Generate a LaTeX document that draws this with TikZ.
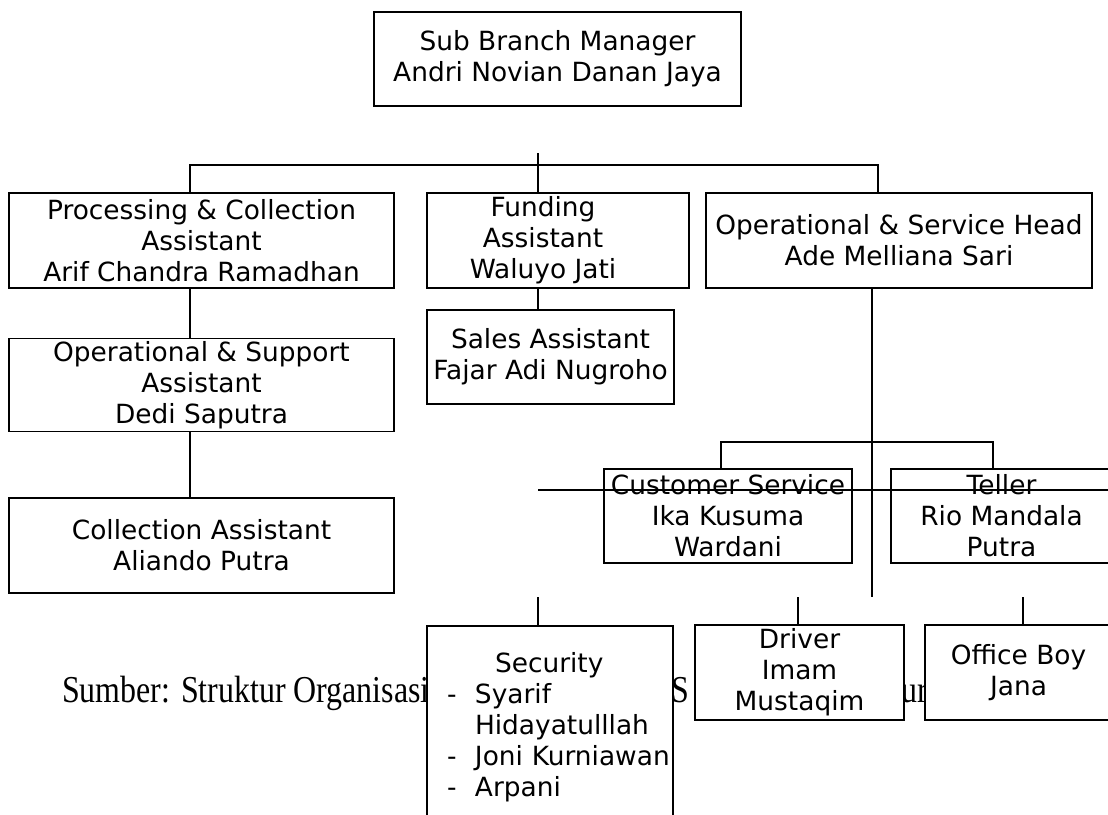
\documentclass[tikz,border=0pt]{standalone}
\usepackage{fontspec}
\setmainfont{DejaVu Sans}
\newfontfamily\srcfont{Liberation Serif}
\usetikzlibrary{calc}
\tikzstyle{unit}=[draw,fill=white,line width=1.5pt,align=center,inner sep=0pt,font=\fontsize{26.4}{31}\selectfont]
\tikzstyle{unittext}=[align=center,inner sep=0pt,font=\fontsize{26.4}{31}\selectfont]
\tikzstyle{link}=[draw,line width=1.5pt]
\tikzstyle{source}=[inner sep=0pt,anchor=base west,font=\srcfont\fontsize{38}{40}\selectfont]
\newcommand{\srctext}[1]{\scalebox{0.84}[1]{#1}}

\begin{document}
\begin{tikzpicture}[x=1pt,y=-1pt]
    \useasboundingbox (0,0) rectangle (1108,814);
    \clip (0,0) rectangle (1108,814);

    % source line, partly hidden behind the boxes
    \node[source] (src) at (62,702) {\srctext{Sumber: Struktur Organisasi}};
    \node[source] (srcS) at (671,702) {\srctext{S}};
    \node[source] (srcUr) at (901,702) {\srctext{ur}};

    \foreach \pos/ \name / \w / \h / \label in {{(557.5,59)/sbm/367/94/{Sub Branch Manager\\Andri Novian Danan Jaya}},
        {(201.5,240.5)/pca/385/95/{Processing \& Collection\\Assistant\\Arif Chandra Ramadhan}},
        {(899,240.5)/osh/386/95/{Operational \& Service Head\\Ade Melliana Sari}},
        {(201.5,385)/osa/385/93/{Operational \& Support\\Assistant\\Dedi Saputra}},
        {(550.5,357)/sales/247/94/{Sales Assistant\\Fajar Adi Nugroho}},
        {(201.5,545.5)/colla/385/95/{Collection Assistant\\Aliando Putra}},
        {(728,516)/cs/248/94/{Customer Service\\Ika Kusuma\\Wardani}},
        {(1001.5,516)/teller/221/94/{Teller\\Rio Mandala\\Putra}},
        {(799.5,672.5)/driver/209/95/{Driver\\Imam\\Mustaqim}},
        {(1018.5,672.5)/officeboy/187/95/{Office Boy\\Jana}}}
        \node[unit,minimum width=\w,minimum height=\h] (\name) at \pos {\label};

    \node[unit,minimum width=262,minimum height=95] (funding) at (558,240.5) {};
    \node[unittext] (fundingtext) at (543,240.5) {Funding\\Assistant\\Waluyo Jati};

    \node[unit,anchor=north,minimum width=246,minimum height=202,text width=246,align=left] (security) at (550,625)
        {\hspace*{68pt}Security\\\hspace*{20pt}\makebox[28pt][l]{-}Syarif\\\hspace*{48pt}Hidayatulllah\\\hspace*{20pt}\makebox[28pt][l]{-}\mbox{Joni Kurniawan}\\\hspace*{20pt}\makebox[28pt][l]{-}Arpani};

    % connectors
    \coordinate (busL) at (190,165);
    \coordinate (busR) at (878,165);
    \coordinate (busC) at (538,153);
    \path[link] (busL |- pca.north) -- (busL) -- (busR) -- (busR |- osh.north);
    \path[link] (busC) -- (busC |- funding.north);
    \path[link] (busC |- funding.south) -- (busC |- sales.north);
    \path[link] (busL |- pca.south) -- (busL |- osa.north);
    \path[link] (busL |- osa.south) -- (busL |- colla.north);

    \coordinate (oshEnd) at (872,597);
    \path[link] (oshEnd |- osh.south) -- (oshEnd);

    \coordinate (csBusL) at (721,442);
    \coordinate (csBusR) at (993,442);
    \path[link] (csBusL |- cs.north) -- (csBusL) -- (csBusR) -- (csBusR |- teller.north);

    \coordinate (strikeL) at (538,490);
    \path[link] (strikeL) -- (strikeL -| teller.east);

    \foreach \x / \dest in {538/security, 798/driver, 1023/officeboy}
        \path[link] (\x,597) -- (\x,597 |- \dest.north);

\end{tikzpicture}
\end{document}
